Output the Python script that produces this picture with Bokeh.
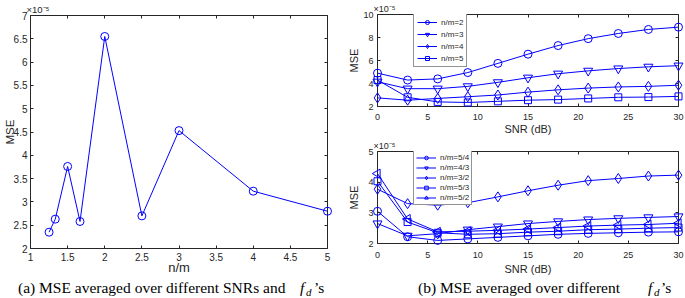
from bokeh.plotting import figure
from bokeh.models import (Range1d, FixedTicker, LinearAxis, Legend, LegendItem, Div,
                          CustomJSTickFormatter)
from bokeh.layouts import row, column
from bokeh.embed import file_html
from bokeh.resources import INLINE
import math

# ---------------- data (MSE values in units of 1e-5) ----------------
# (a) MSE averaged over SNRs and f_d
nm_ratio = [1.25, 4 / 3, 1.5, 5 / 3, 2.0, 2.5, 3.0, 4.0, 5.0]
mse_avg = [2.35, 2.63, 3.76, 2.58, 6.55, 2.70, 4.53, 3.23, 2.80]

# (b) MSE vs SNR
snr_db = [0, 3, 6, 9, 12, 15, 18, 21, 24, 27, 30]
mse_nm2 = [4.90, 4.30, 4.40, 4.95, 5.75, 6.55, 7.30, 7.90, 8.35, 8.70, 8.90]
mse_nm3 = [4.15, 3.55, 3.55, 3.75, 4.10, 4.50, 4.85, 5.10, 5.30, 5.45, 5.55]
mse_nm4 = [2.75, 2.55, 2.70, 2.85, 3.00, 3.25, 3.45, 3.60, 3.70, 3.75, 3.85]
mse_nm5 = [4.30, 2.80, 2.40, 2.35, 2.45, 2.55, 2.60, 2.70, 2.80, 2.82, 2.88]

mse_nm5_4 = [3.05, 2.22, 2.10, 2.15, 2.20, 2.25, 2.30, 2.33, 2.35, 2.37, 2.38]
mse_nm4_3 = [2.65, 2.25, 2.32, 2.45, 2.55, 2.65, 2.72, 2.78, 2.82, 2.85, 2.88]
mse_nm3_2 = [3.77, 3.30, 3.25, 3.33, 3.52, 3.72, 3.90, 4.05, 4.12, 4.20, 4.23]
mse_nm5_3 = [4.03, 2.70, 2.35, 2.30, 2.32, 2.37, 2.40, 2.45, 2.47, 2.50, 2.52]
mse_nm5_2 = [4.28, 2.80, 2.38, 2.40, 2.43, 2.47, 2.52, 2.57, 2.60, 2.62, 2.66]

top_labels = ["n/m=2", "n/m=3", "n/m=4", "n/m=5"]
bot_labels = ["n/m=5/4", "n/m=4/3", "n/m=3/2", "n/m=5/3", "n/m=5/2"]

xticks_a = [1, 1.5, 2, 2.5, 3, 3.5, 4, 4.5, 5]
yticks_a = [2, 2.5, 3, 3.5, 4, 4.5, 5, 5.5, 6, 6.5, 7]
xticks_b = [0, 5, 10, 15, 20, 25, 30]
yticks_top = [2, 4, 6, 8, 10]
yticks_bot = [2, 3, 4, 5]

scale_text = "\u00d710\u207b\u2075"
caption_a = "(a) MSE averaged over different SNRs and"
caption_b = "(b) MSE averaged over different"

BLUE = "#0000ff"
AX = "#262626"
SANS = "Liberation Sans"
fmt = CustomJSTickFormatter(code="return String(tick);")
blank = CustomJSTickFormatter(code="return '';")


def make_fig(fw, fh, bl, br, bt, bb, xr, yr, xt, yt, xlabel, tick_fs, xlab_fs, ylab_fs,
             xstd, xlab_std, ystd, ylab_std, title_fs):
    p = figure(frame_width=fw, frame_height=fh, min_border_left=bl, min_border_right=br,
               min_border_top=bt, min_border_bottom=bb,
               x_range=Range1d(*xr), y_range=Range1d(*yr),
               output_backend="svg", toolbar_location=None)
    p.xgrid.visible = False
    p.ygrid.visible = False
    p.outline_line_color = None
    p.background_fill_color = "white"
    p.border_fill_color = "white"
    for ax, ticks in ((p.xaxis[0], xt), (p.yaxis[0], yt)):
        ax.ticker = FixedTicker(ticks=ticks)
        ax.formatter = fmt
        ax.major_tick_in = 3
        ax.major_tick_out = 0
        ax.minor_tick_line_color = None
        ax.axis_line_color = AX
        ax.major_tick_line_color = AX
        ax.major_label_text_color = AX
        ax.major_label_text_font = SANS
        ax.major_label_text_font_size = tick_fs
        ax.axis_label_text_font = SANS
        ax.axis_label_text_font_style = "normal"
        ax.axis_label_text_color = AX
    p.xaxis[0].major_label_standoff = xstd
    p.xaxis[0].axis_label = xlabel
    p.xaxis[0].axis_label_standoff = xlab_std
    p.xaxis[0].axis_label_text_font_size = xlab_fs
    p.yaxis[0].major_label_standoff = ystd
    p.yaxis[0].axis_label = "MSE"
    p.yaxis[0].axis_label_standoff = ylab_std
    p.yaxis[0].axis_label_text_font_size = ylab_fs
    # box with inward ticks on top and right (no tick labels)
    for loc, ticks in (("above", xt), ("right", yt)):
        a = LinearAxis(ticker=FixedTicker(ticks=ticks), formatter=blank,
                       major_tick_in=3, major_tick_out=0,
                       minor_tick_line_color=None, axis_line_color=AX,
                       major_tick_line_color=AX, major_label_text_color=None,
                       major_label_text_font_size="1px", major_label_standoff=0)
        p.add_layout(a, loc)
    # exponent note above the axes
    p.title.text = scale_text
    p.title.align = "left"
    p.title.offset = -4
    p.title.standoff = 1
    p.title.text_font = SANS
    p.title.text_font_style = "normal"
    p.title.text_font_size = title_fs
    p.title.text_color = AX
    return p


def make_legend(items, loc, gh, sp, pad):
    return Legend(items=items, location=loc, glyph_width=20, glyph_height=gh,
                  label_height=gh, spacing=sp, padding=pad, margin=0, label_standoff=4,
                  label_text_font=SANS, label_text_font_size="8px", label_text_color=AX,
                  border_line_color=AX, border_line_width=0.8, background_fill_alpha=1)


# ---------------- (a) ----------------
pa = make_fig(297, 233, 30, 18, 15, 31, (1, 5), (2, 7), xticks_a, yticks_a, "n/m",
              "10px", "13px", "11.5px", 4, -4, 3, -5, "9.5px")
pa.line(nm_ratio, mse_avg, line_color=BLUE, line_width=1)
pa.scatter(nm_ratio, mse_avg, marker="circle", size=8, line_color=BLUE, fill_color=None,
           line_width=1, level="overlay")

# ---------------- (b) top ----------------
pt = make_fig(301, 92, 32, 7, 14, 31, (0, 30), (2, 10), xticks_b, yticks_top, "SNR (dB)",
              "9px", "11px", "11px", 7, 0, 4, 0, "9px")
top_series = [mse_nm2, mse_nm3, mse_nm4, mse_nm5]
top_markers = [("circle", 8, 0.0), ("inverted_triangle", 9, 0.0), ("diamond", 10, 0.0),
               ("square", 7, 0.0)]
items = []
for lab, ys, (mk, sz, ang) in zip(top_labels, top_series, top_markers):
    r1 = pt.line(snr_db, ys, line_color=BLUE, line_width=1)
    r2 = pt.scatter(snr_db, ys, marker=mk, size=sz, angle=ang, line_color=BLUE,
                    fill_color=None, line_width=1, level="overlay")
    items.append(LegendItem(label=lab, renderers=[r1, r2]))
pt.add_layout(make_legend(items, (36, 39), 10, 2, 3), "center")

# ---------------- (b) bottom ----------------
pb = make_fig(301, 92, 32, 7, 14, 36, (0, 30), (2, 5), xticks_b, yticks_bot, "SNR (dB)",
              "9px", "11px", "11px", 8, 2, 4, 5, "9px")
bot_series = [mse_nm5_4, mse_nm4_3, mse_nm3_2, mse_nm5_3, mse_nm5_2]
bot_markers = [("circle", 8, 0.0), ("inverted_triangle", 9, 0.0), ("diamond", 10, 0.0),
               ("square", 7, 0.0), ("triangle", 9, math.pi / 2)]
items = []
for lab, ys, (mk, sz, ang) in zip(bot_labels, bot_series, bot_markers):
    r1 = pb.line(snr_db, ys, line_color=BLUE, line_width=1)
    r2 = pb.scatter(snr_db, ys, marker=mk, size=sz, angle=ang, line_color=BLUE,
                    fill_color=None, line_width=1, level="overlay")
    items.append(LegendItem(label=lab, renderers=[r1, r2]))
pb.add_layout(make_legend(items, (36, 38), 9, 1, 2), "center")


# ---------------- captions ----------------
def caption_html(text, x_text, x_f, x_d, x_s):
    base = ("position:absolute;font-family:'Liberation Serif';color:black;"
            "white-space:nowrap;")
    big = base + "top:0;font-size:15.5px;line-height:18px;"
    return (f'<div style="position:relative;height:19px;">'
            f'<span style="{big}left:{x_text}px;">{text}</span>'
            f'<span style="{big}left:{x_f}px;font-style:italic;">f</span>'
            f'<span style="{base}top:8px;left:{x_d}px;font-style:italic;font-size:11px;'
            f'line-height:11px;">d</span>'
            f'<span style="{big}left:{x_s}px;">\u2019s</span></div>')


div_a = Div(text=caption_html(caption_a, 18, 300, 306, 314), width=345, height=19,
            margin=0)
div_b = Div(text=caption_html(caption_b, 73, 303, 309, 316), width=340, height=19,
            margin=0)

layout = column(row(pa, column(pt, pb, spacing=0), spacing=0),
                row(div_a, div_b, spacing=0), spacing=0)
open("out.html", "w").write(file_html(layout, INLINE))
